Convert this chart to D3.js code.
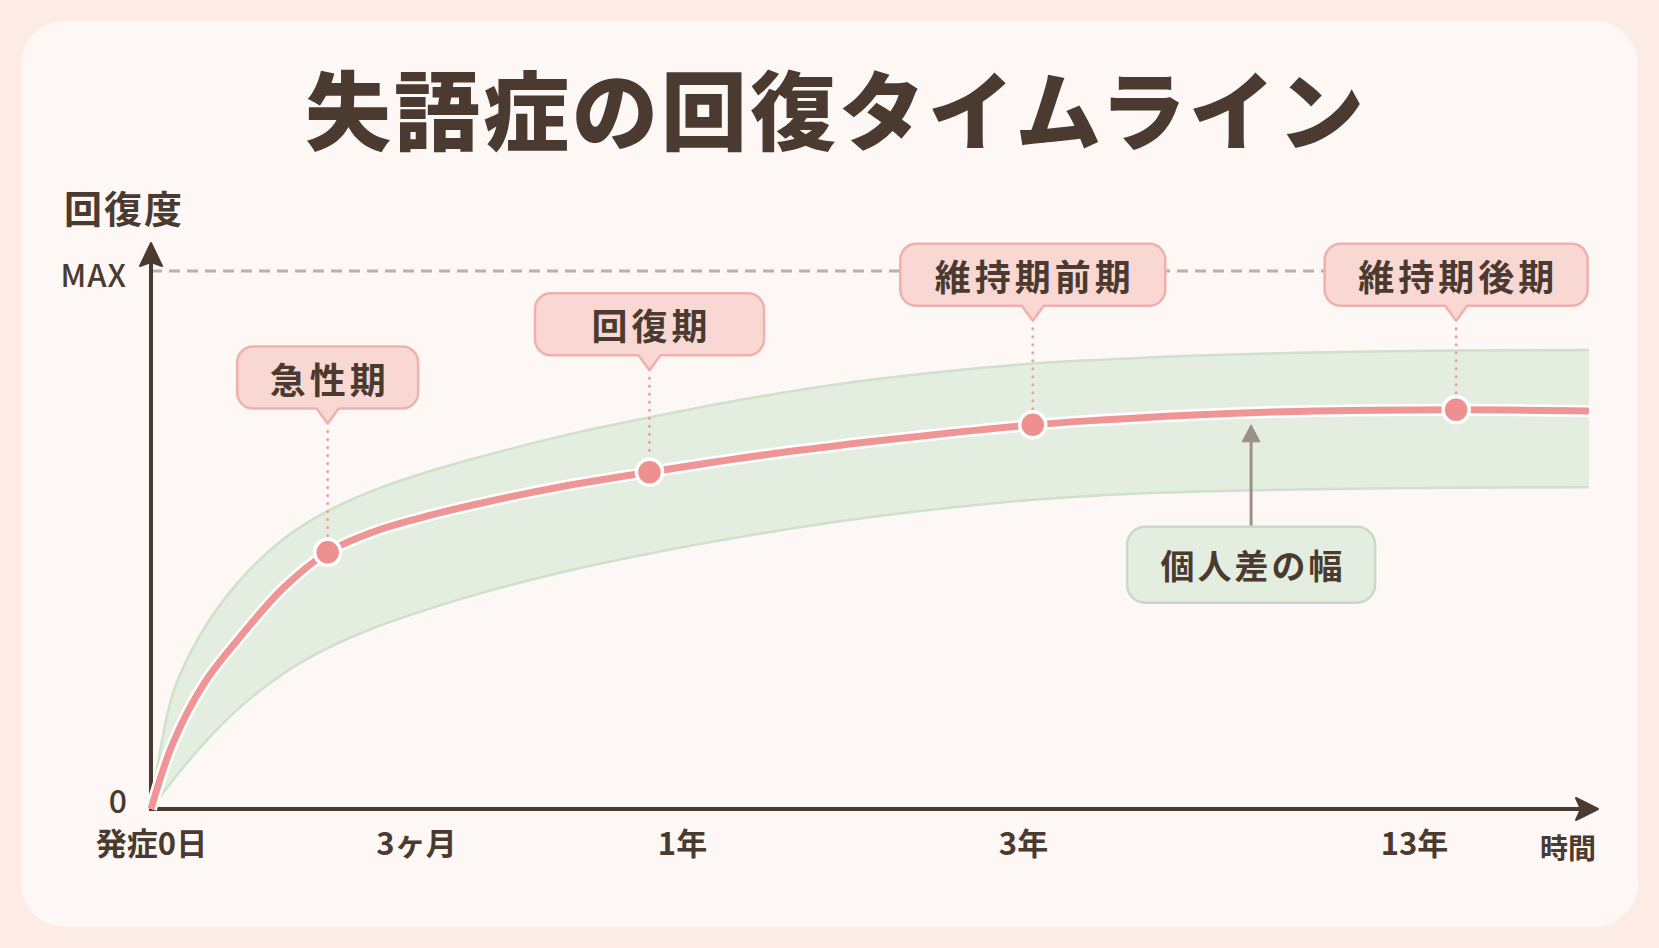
<!DOCTYPE html>
<html>
<head>
<meta charset="utf-8">
<script src="https://cdn.jsdelivr.net/npm/d3@7"></script>
<style>
  html, body { margin: 0; padding: 0; background: #fdebe5; }
  svg { display: block; font-family: "Noto Sans CJK JP", "Noto Sans", sans-serif; }
</style>
</head>
<body>
<div id="chart"></div>
<script>
// DATA (months since onset, recovery in % of MAX)
const months     = [0, 0.25, 0.6, 1, 1.5, 2, 2.5, 3, 5, 8, 11, 18, 26, 39, 60, 90, 120, 169, 210];
const recovery   = [0, 12.3, 23.3, 31.8, 41.1, 47.7, 51.4, 53.9, 56.6, 60, 62.7, 65.9, 68.5, 71.4, 72.3, 73.3, 73.9, 74.2, 74];
const rangeUpper = [0, 21.6, 33.5, 42.4, 50.2, 55.4, 59.1, 62, 65.2, 69.4, 72.9, 76.9, 80, 82.8, 83.5, 84.3, 84.8, 85.2, 85.3];
const rangeLower = [0, 5.4, 12.2, 18.8, 25.2, 29.9, 33.5, 36.4, 39.8, 44.1, 47.6, 51.4, 54.5, 57.5, 58.3, 59, 59.4, 59.7, 59.8];

const tickMonths = [0, 3, 12, 36, 156];
const tickLabels = ['発症0日', '3ヶ月', '1年', '3年', '13年'];

const phaseNames  = ['急性期', '回復期', '維持期前期', '維持期後期'];
const phaseMonths = [2, 10.9, 39, 169];
const phaseValues = [47.7, 62.6, 71.4, 74.2];
const phaseLevels = [80.2, 90.1, 99.3, 99.3];

const spreadLabel = '個人差の幅';
const spreadMonth = 106;
const spreadLevel = 45.4;
const spreadTip   = 71.4;

// VIZ DIMENSIONS + MOUNTING
const width = 1659;
const height = 948;
const ink = '#4a3a30';

const svg = d3.select('#chart').append('svg')
  .attr('width', width)
  .attr('height', height);

svg.append('rect')
  .attr('width', width).attr('height', height)
  .attr('fill', '#fdebe5');

svg.append('rect')
  .attr('x', 21).attr('y', 21)
  .attr('width', 1617).attr('height', 906)
  .attr('rx', 44)
  .attr('fill', '#fdf8f5');

// piecewise time axis (ticks are not evenly spaced in time)
const x = d3.scaleLinear()
  .domain([0, 3, 12, 36, 156, 210])
  .range([151, 416, 682, 1023, 1414, 1589]);

const y = d3.scaleLinear()
  .domain([0, 100])
  .range([809, 271]);

const pts = months.map((m, i) => ({m: m, v: recovery[i], hi: rangeUpper[i], lo: rangeLower[i]}));
const smooth = d3.curveCatmullRom.alpha(0.5);

// TITLE
svg.append('text')
  .attr('x', 836).attr('y', 106)
  .attr('text-anchor', 'middle')
  .attr('dominant-baseline', 'central')
  .style('font-size', '86px')
  .style('font-weight', 900)
  .style('letter-spacing', '3px')
  .style('fill', ink)
  .text('失語症の回復タイムライン');

svg.append('text')
  .attr('x', 64).attr('y', 206)
  .attr('dominant-baseline', 'central')
  .style('font-size', '38px')
  .style('font-weight', 700)
  .style('letter-spacing', '2px')
  .style('fill', ink)
  .text('回復度');

// BAND OF INDIVIDUAL DIFFERENCE
const area = d3.area()
  .x(d => x(d.m))
  .y0(d => y(d.lo))
  .y1(d => y(d.hi))
  .curve(smooth);

svg.append('path')
  .datum(pts)
  .attr('d', area)
  .style('fill', '#e3eee0');

['hi', 'lo'].forEach(k => {
  svg.append('path')
    .datum(pts)
    .attr('d', d3.line().x(d => x(d.m)).y(d => y(d[k])).curve(smooth))
    .style('fill', 'none')
    .style('stroke', '#cfe0cb')
    .style('stroke-width', 2.5);
});

// MAX dashed line
svg.append('line')
  .attr('x1', x(0)).attr('x2', x(210))
  .attr('y1', y(100)).attr('y2', y(100))
  .style('stroke', '#b9b0a7')
  .style('stroke-width', 3)
  .style('stroke-dasharray', '11,7');

// AXES
const xAxis = svg.append('g')
  .attr('transform', `translate(0, ${y(0)})`)
  .call(d3.axisBottom(x)
    .tickValues(tickMonths)
    .tickFormat((d, i) => tickLabels[i])
    .tickSize(0)
    .tickPadding(24));
xAxis.select('.domain').remove();
xAxis.selectAll('text')
  .style('font-size', '31px')
  .style('font-weight', 700)
  .style('font-family', '"Noto Sans CJK JP", sans-serif')
  .style('fill', ink);

const yAxis = svg.append('g')
  .attr('transform', `translate(${x(0)}, 0)`)
  .call(d3.axisLeft(y)
    .tickValues([0, 100])
    .tickFormat(d => d === 100 ? 'MAX' : '0')
    .tickSize(0)
    .tickPadding(24));
yAxis.select('.domain').remove();
yAxis.selectAll('text')
  .style('font-size', d => d === 100 ? '31px' : '32px')
  .style('font-weight', 500)
  .style('letter-spacing', d => d === 100 ? '1px' : '0px')
  .style('font-family', '"Noto Sans CJK JP", sans-serif')
  .style('fill', ink);
yAxis.selectAll('.tick text')
  .attr('dy', d => d === 100 ? '0.5em' : '0.1em');

svg.append('text')
  .attr('x', x(210) - 21).attr('y', y(0) + 38)
  .attr('text-anchor', 'middle')
  .attr('dominant-baseline', 'central')
  .style('font-size', '28px')
  .style('font-weight', 700)
  .style('fill', ink)
  .text('時間');

const axisLayer = svg.append('g');
axisLayer.append('line')
  .attr('x1', x(0)).attr('x2', x(210) + 2)
  .attr('y1', y(0)).attr('y2', y(0))
  .style('stroke', ink).style('stroke-width', 4);
axisLayer.append('line')
  .attr('x1', x(0)).attr('x2', x(0))
  .attr('y1', y(0) + 2).attr('y2', 258)
  .style('stroke', ink).style('stroke-width', 4);
// arrow heads
axisLayer.append('path')
  .attr('d', `M${x(0)},243 L${x(0) + 11},266 L${x(0)},262 L${x(0) - 11},266 Z`)
  .style('fill', ink).style('stroke', ink).style('stroke-width', 2).style('stroke-linejoin', 'round');
axisLayer.append('path')
  .attr('d', `M1598,${y(0)} L1576,${y(0) - 11} L1581,${y(0)} L1576,${y(0) + 11} Z`)
  .style('fill', ink).style('stroke', ink).style('stroke-width', 2).style('stroke-linejoin', 'round');

// DOTTED LEADERS
const calloutH = 62;
const pointerH = 15;
const calloutW = [181, 229, 265, 263];

phaseNames.forEach((name, i) => {
  svg.append('line')
    .attr('x1', x(phaseMonths[i])).attr('x2', x(phaseMonths[i]))
    .attr('y1', y(phaseLevels[i]) + calloutH / 2 + pointerH + 8)
    .attr('y2', y(phaseValues[i]) - 16)
    .style('stroke', '#f19c9c')
    .style('stroke-width', 3)
    .style('stroke-linecap', 'round')
    .style('stroke-dasharray', '0,8');
});

// RECOVERY LINE
const line = d3.line()
  .x(d => x(d.m))
  .y(d => y(d.v))
  .curve(smooth);

svg.append('path')
  .datum(pts)
  .attr('d', line)
  .style('fill', 'none')
  .style('stroke', '#ffffff')
  .style('stroke-width', 12);

svg.append('path')
  .datum(pts)
  .attr('d', line)
  .style('fill', 'none')
  .style('stroke', '#ef9595')
  .style('stroke-width', 7);

svg.selectAll('circle.phase')
  .data(phaseNames)
  .enter()
  .append('circle')
  .attr('class', 'phase')
  .attr('cx', (d, i) => x(phaseMonths[i]))
  .attr('cy', (d, i) => y(phaseValues[i]))
  .attr('r', 13)
  .style('fill', '#ee8f90')
  .style('stroke', '#ffffff')
  .style('stroke-width', 3.5);

// CALLOUTS
function calloutPath(w, h, r, pw, ph) {
  const x0 = -w / 2, x1 = w / 2, y0 = -h / 2, y1 = h / 2;
  return `M${x0 + r},${y0} H${x1 - r} A${r},${r} 0 0 1 ${x1},${y0 + r} V${y1 - r} ` +
    `A${r},${r} 0 0 1 ${x1 - r},${y1} H${pw / 2} L0,${y1 + ph} L${-pw / 2},${y1} H${x0 + r} ` +
    `A${r},${r} 0 0 1 ${x0},${y1 - r} V${y0 + r} A${r},${r} 0 0 1 ${x0 + r},${y0} Z`;
}

const callout = svg.selectAll('g.callout')
  .data(phaseNames)
  .enter()
  .append('g')
  .attr('class', 'callout')
  .attr('transform', (d, i) => `translate(${x(phaseMonths[i])}, ${y(phaseLevels[i])})`);

callout.append('path')
  .attr('d', (d, i) => calloutPath(calloutW[i], calloutH, 16, 22, pointerH))
  .style('fill', '#f9d8d4')
  .style('stroke', '#efb1ab')
  .style('stroke-width', 2.5)
  .style('stroke-linejoin', 'round');

callout.append('text')
  .attr('text-anchor', 'middle')
  .attr('dominant-baseline', 'central')
  .attr('dx', 2)
  .style('font-size', '36px')
  .style('font-weight', 700)
  .style('letter-spacing', '4px')
  .style('fill', ink)
  .text(d => d);

// INDIVIDUAL DIFFERENCE NOTE
const sx = x(spreadMonth);
const boxH = 76;
svg.append('line')
  .attr('x1', sx).attr('x2', sx)
  .attr('y1', y(spreadLevel) - boxH / 2)
  .attr('y2', y(spreadTip) + 14)
  .style('stroke', '#9c9188')
  .style('stroke-width', 3);
svg.append('path')
  .attr('d', `M${sx},${y(spreadTip)} L${sx + 9},${y(spreadTip) + 17} L${sx - 9},${y(spreadTip) + 17} Z`)
  .style('fill', '#9c9188')
  .style('stroke', '#9c9188')
  .style('stroke-linejoin', 'round');

svg.append('rect')
  .attr('x', sx - 124).attr('y', y(spreadLevel) - boxH / 2)
  .attr('width', 248).attr('height', boxH)
  .attr('rx', 18)
  .style('fill', '#e3eee0')
  .style('stroke', '#cad9c6')
  .style('stroke-width', 2.5);

svg.append('text')
  .attr('x', sx + 2).attr('y', y(spreadLevel))
  .attr('text-anchor', 'middle')
  .attr('dominant-baseline', 'central')
  .style('font-size', '34px')
  .style('font-weight', 700)
  .style('letter-spacing', '3px')
  .style('fill', ink)
  .text(spreadLabel);
</script>
</body>
</html>
